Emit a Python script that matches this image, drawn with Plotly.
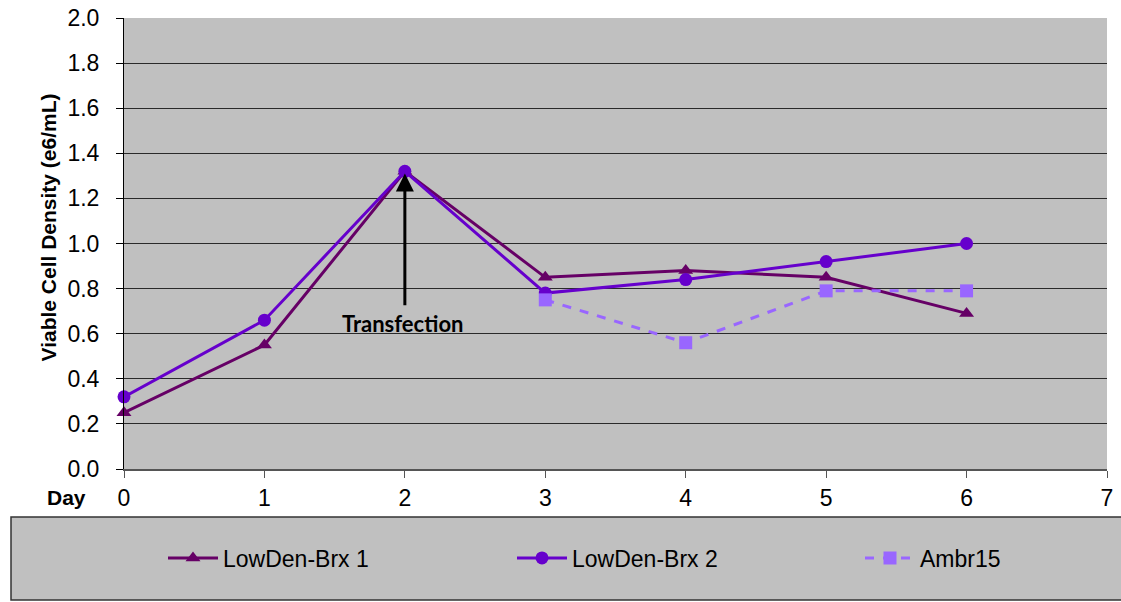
import plotly.graph_objects as go

# Viable cell density per culture day
days = [0, 1, 2, 3, 4, 5, 6]
brx1 = [0.25, 0.55, 1.32, 0.85, 0.88, 0.85, 0.69]
brx2 = [0.32, 0.66, 1.32, 0.78, 0.84, 0.92, 1.00]
ambr_days = [3, 4, 5, 6]
ambr15 = [0.75, 0.56, 0.79, 0.79]

y_ticks = [0.0, 0.2, 0.4, 0.6, 0.8, 1.0, 1.2, 1.4, 1.6, 1.8, 2.0]
x_ticks = [0, 1, 2, 3, 4, 5, 6, 7]

W, H = 1121, 602
L, R, T, B = 124, 14, 18, 133
pw, ph = W - L - R, H - T - B

def px_x(p):
    return (p - L) / pw

def px_y(p):
    return (H - B - p) / ph

fig = go.Figure()
fig.add_trace(go.Scatter(
    x=days, y=brx1, name="LowDen-Brx 1", mode="lines+markers",
    line=dict(color="#660066", width=3),
    marker=dict(symbol="triangle-up", size=13, color="#660066"),
    cliponaxis=False, legend="legend"))
fig.add_trace(go.Scatter(
    x=days, y=brx2, name="LowDen-Brx 2", mode="lines+markers",
    line=dict(color="#6600CC", width=3),
    marker=dict(symbol="circle", size=13, color="#6600CC"),
    cliponaxis=False, legend="legend2"))
fig.add_trace(go.Scatter(
    x=ambr_days, y=ambr15, name="Ambr15", mode="lines+markers",
    line=dict(color="#9966FF", width=3, dash="dash"),
    marker=dict(symbol="square", size=13, color="#9966FF"),
    cliponaxis=False, legend="legend3"))

base_font = "Liberation Sans, Arial"
tick_font = dict(family=base_font, size=23, color="black")

def legend_at(px_left):
    return dict(
        x=px_x(px_left), y=px_y(558), xanchor="left", yanchor="middle",
        bgcolor="rgba(0,0,0,0)", borderwidth=0, itemwidth=50,
        font=dict(family=base_font, size=23, color="black"),
    )

fig.update_layout(
    width=W, height=H,
    margin=dict(l=L, r=R, t=T, b=B, autoexpand=False),
    paper_bgcolor="white",
    plot_bgcolor="#C0C0C0",
    showlegend=True,
    legend=legend_at(163),
    legend2=legend_at(512),
    legend3=legend_at(860),
    xaxis=dict(
        range=[0, 7], tickvals=x_ticks, ticktext=[str(v) for v in x_ticks],
        showgrid=False, zeroline=False, automargin=False,
        showline=True, linecolor="#555555", linewidth=2,
        ticks="outside", ticklen=7, tickcolor="#555555",
        tickfont=tick_font,
    ),
    yaxis=dict(
        range=[0, 2.0], tickvals=y_ticks, ticktext=[f"{v:.1f}" for v in y_ticks],
        showgrid=True, gridcolor="#2a2a2a", gridwidth=1,
        zeroline=False, automargin=False,
        showline=True, linecolor="black", linewidth=1,
        ticks="outside", ticklen=7, tickcolor="black",
        ticklabelstandoff=12,
        tickfont=tick_font,
    ),
    shapes=[
        # legend panel
        dict(type="rect", xref="paper", yref="paper",
             x0=px_x(11), x1=px_x(1125), y0=px_y(600), y1=px_y(517),
             fillcolor="#C0C0C0", line=dict(color="#333333", width=1.5),
             layer="below"),
    ],
    annotations=[
        # y-axis title
        dict(x=px_x(35), y=px_y(228), xref="paper", yref="paper",
             text="<b>Viable Cell Density (e6/mL)</b>", textangle=-90,
             showarrow=False, font=dict(family=base_font, size=21, color="black")),
        # transfection marker
        dict(x=2, y=1.31, ax=2, ay=0.72, xref="x", yref="y", axref="x", ayref="y",
             text="", showarrow=True, arrowhead=2, arrowsize=1.2, arrowwidth=3,
             arrowcolor="black"),
        dict(x=1.98, y=0.645, xref="x", yref="y", text="<b>Transfection</b>",
             showarrow=False, font=dict(family="Lato, Open Sans", size=22, color="black")),
        dict(x=px_x(66), y=px_y(498), xref="paper", yref="paper", text="<b>Day</b>",
             xanchor="center", yanchor="middle",
             showarrow=False, font=dict(family=base_font, size=21, color="black")),
    ],
)

fig.write_html("out.html")
